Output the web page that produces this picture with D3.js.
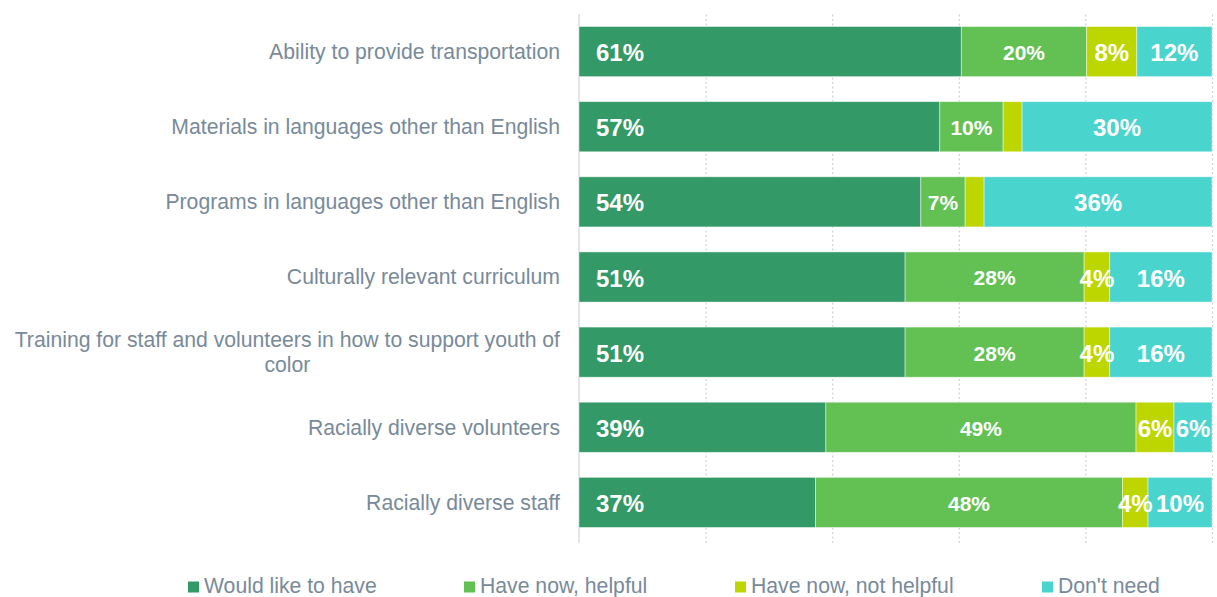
<!DOCTYPE html>
<html>
<head>
<meta charset="utf-8">
<script src="https://cdn.jsdelivr.net/npm/d3@7"></script>
<style>
  html, body { margin: 0; padding: 0; background: #fff; }
  svg { display: block; font-family: "Liberation Sans", Arial, sans-serif; }
</style>
</head>
<body>
<svg id="chart" width="1217" height="597"></svg>
<script>
// Survey items (top to bottom)
const categories = [
  "Ability to provide transportation",
  "Materials in languages other than English",
  "Programs in languages other than English",
  "Culturally relevant curriculum",
  "Training for staff and volunteers in how to support youth of color",
  "Racially diverse volunteers",
  "Racially diverse staff"
];

// Response shares (percent) per item
const wouldLikeToHave   = [61, 57, 54, 51, 51, 39, 37];
const haveNowHelpful    = [20, 10, 7, 28, 28, 49, 48];
const haveNowNotHelpful = [8, 3, 3, 4, 4, 6, 4];
const dontNeed          = [12, 30, 36, 16, 16, 6, 10];

const seriesNames = ["Would like to have", "Have now, helpful", "Have now, not helpful", "Don't need"];
const seriesValues = [wouldLikeToHave, haveNowHelpful, haveNowNotHelpful, dontNeed];

// Styling
const colors = ["#339966", "#62c152", "#bed600", "#4ad4ce"];
const labelSizes = [24, 21, 24, 24];
const textGray = "#788a99";

const svg = d3.select("#chart");
const plotLeft = 579, plotRight = 1212, plotTop = 14, plotBottom = 540;

// Build rows normalised to 100% stacked shares
const rows = categories.map((c, i) => {
  const vals = seriesValues.map(s => s[i]);
  const total = d3.sum(vals);
  let acc = 0;
  const segs = vals.map((v, k) => {
    const s = { key: k, value: v, x0: acc / total, x1: (acc + v) / total };
    acc += v;
    return s;
  });
  return { category: c, segs };
});

const x = d3.scaleLinear().domain([0, 1]).range([plotLeft, plotRight]);
const y = d3.scaleBand().domain(categories).range([plotTop, plotBottom])
  .paddingInner(0.333).paddingOuter(0.1667);

// Dotted vertical gridlines
const xAxis = d3.axisBottom(x).tickValues([0.2, 0.4, 0.6, 0.8, 1.0])
  .tickSize(-(plotBottom - plotTop + 3)).tickFormat("");
const gx = svg.append("g").attr("transform", `translate(0,${plotBottom + 3})`).call(xAxis);
gx.select(".domain").remove();
gx.selectAll(".tick line")
  .attr("stroke", "#cdd2d9").attr("stroke-width", 1.2).attr("stroke-dasharray", "2,2.5");

// Category axis line
svg.append("line")
  .attr("x1", plotLeft).attr("x2", plotLeft).attr("y1", plotTop).attr("y2", plotBottom + 3)
  .attr("stroke", "#d9dee5").attr("stroke-width", 1.5);

// Bars
const rowG = svg.append("g").selectAll("g").data(rows).join("g")
  .attr("transform", d => `translate(0,${y(d.category)})`);

rowG.selectAll("rect").data(d => d.segs).join("rect")
  .attr("x", d => x(d.x0))
  .attr("y", 0)
  .attr("width", d => x(d.x1) - x(d.x0))
  .attr("height", y.bandwidth())
  .attr("fill", d => colors[d.key])
  .attr("stroke", "#ffffff").attr("stroke-opacity", 0.55).attr("stroke-width", 0.8);

// Value labels
rowG.selectAll("text").data(d => d.segs.filter(s => s.value >= 4)).join("text")
  .attr("x", d => d.key === 0 ? x(d.x0) + 17 : (x(d.x0) + x(d.x1)) / 2)
  .attr("y", y.bandwidth() / 2)
  .attr("dy", "0.4em")
  .attr("text-anchor", d => d.key === 0 ? "start" : "middle")
  .attr("fill", "#ffffff")
  .attr("font-weight", "bold")
  .attr("font-size", d => labelSizes[d.key])
  .text(d => d.value + "%");

// Category labels, wrapped and right-aligned at the axis
const labelRight = 560, maxLabelWidth = 556, lineHeight = 24.5;
const catG = svg.append("g").attr("font-size", 21.2).attr("fill", textGray);
categories.forEach(c => {
  const cy = y(c) + y.bandwidth() / 2;
  const probe = catG.append("text").attr("visibility", "hidden");
  const words = c.split(" ");
  const lines = [];
  let line = [];
  words.forEach(w => {
    const trial = line.concat(w).join(" ");
    probe.text(trial);
    if (line.length && probe.node().getComputedTextLength() > maxLabelWidth) {
      lines.push(line.join(" "));
      line = [w];
    } else {
      line.push(w);
    }
  });
  lines.push(line.join(" "));
  probe.text(lines[0]);
  const firstWidth = probe.node().getComputedTextLength();
  probe.remove();

  const t = catG.append("text");
  if (lines.length === 1) {
    t.attr("x", labelRight).attr("y", cy).attr("dy", "0.35em")
      .attr("text-anchor", "end").text(lines[0]);
  } else {
    const cx = labelRight - firstWidth / 2;
    t.attr("text-anchor", "middle");
    lines.forEach((ln, i) => {
      t.append("tspan").attr("x", cx)
        .attr("y", cy + (i - (lines.length - 1) / 2) * lineHeight)
        .attr("dy", "0.35em").text(ln);
    });
  }
});

// Legend
const legendX = [188, 464, 735, 1042];
const legend = svg.append("g").selectAll("g").data(seriesNames).join("g")
  .attr("transform", (d, i) => `translate(${legendX[i]},592.5)`);
legend.append("rect").attr("x", 0).attr("y", -11).attr("width", 11).attr("height", 11)
  .attr("fill", (d, i) => colors[i]);
legend.append("text").attr("x", 16).attr("y", 0)
  .attr("font-size", 21.2).attr("fill", textGray).text(d => d);
</script>
</body>
</html>
